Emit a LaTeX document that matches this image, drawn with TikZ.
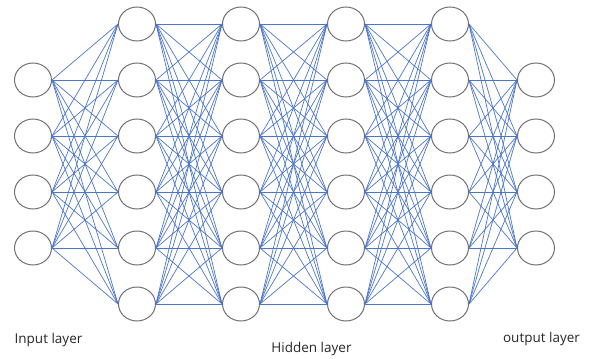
\documentclass[tikz,border=0pt]{standalone}
\usepackage{fontspec}
\setmainfont{Open Sans}
\usetikzlibrary{shapes.geometric}

\definecolor{linkblue}{RGB}{76,118,200}
\definecolor{ringgray}{RGB}{112,112,120}

\tikzset{
    neuron/.style={draw=ringgray, line width=1pt, fill=white, ellipse, minimum width=37pt, minimum height=34pt, inner sep=0pt},
    link/.style={draw=linkblue, line width=0.7pt},
    layername/.style={font=\fontsize{13.5}{16}\selectfont, text=black!85}
}

\begin{document}
\begin{tikzpicture}[x=1pt, y=-1pt]
    \useasboundingbox (0,0) rectangle (590,359);
    % input and output layers
    \foreach \i/\y in {1/80, 2/136, 3/192, 4/248} {
        \node[neuron] (in\i) at (33,\y) {};
        \node[neuron] (out\i) at (536,\y) {};
    }
    % hidden layers
    \foreach \l/\x in {1/137, 2/241, 3/346, 4/450} {
        \foreach \j/\y in {1/24, 2/80, 3/136, 4/192, 5/248, 6/304} {
            \node[neuron] (h\l-\j) at (\x,\y) {};
        }
    }
    % connections
    \foreach \i in {1,...,4} {
        \foreach \j in {1,...,6} {
            \draw[link] (in\i.east) -- (h1-\j.west);
            \draw[link] (h4-\j.east) -- (out\i.west);
        }
    }
    \foreach \l [evaluate=\l as \n using int(\l+1)] in {1,2,3} {
        \foreach \j in {1,...,6} {
            \foreach \k in {1,...,6} {
                \draw[link] (h\l-\j.east) -- (h\n-\k.west);
            }
        }
    }
    \node[layername] (inlabel) at (48.5,340) {Input layer};
    \node[layername] (hidlabel) at (311.5,349) {Hidden layer};
    \node[layername] (outlabel) at (541.5,339) {output layer};
\end{tikzpicture}
\end{document}
